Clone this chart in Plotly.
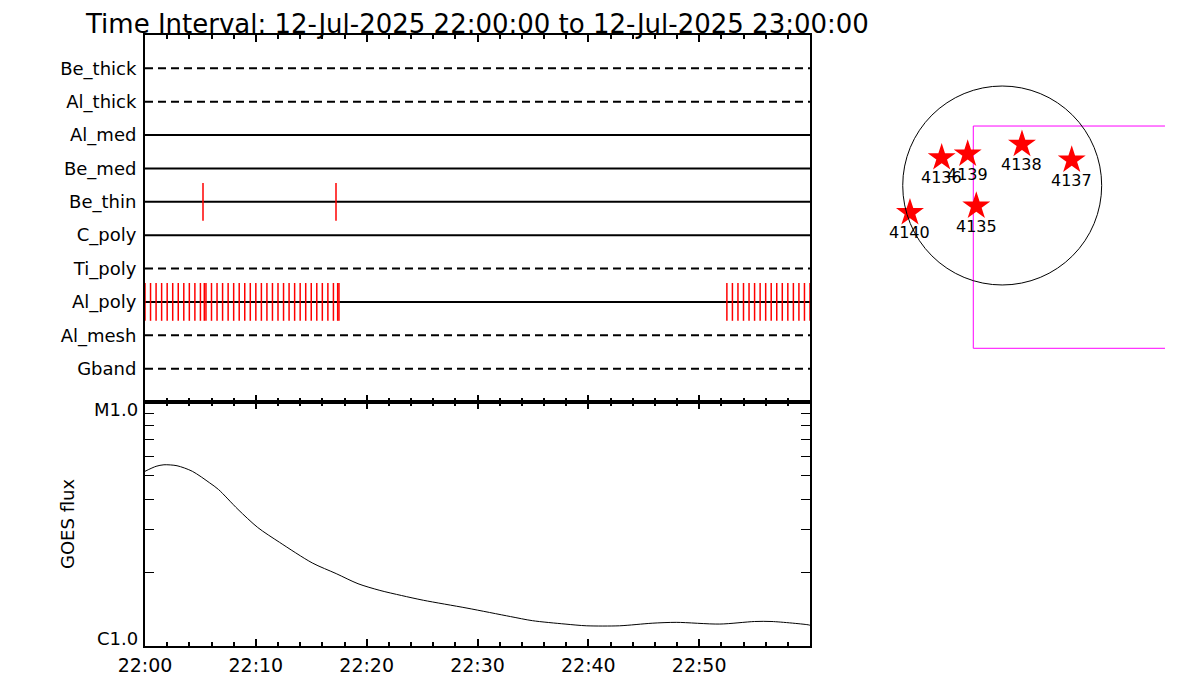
import plotly.graph_objects as go
import pandas as pd

# ---------------- data ----------------
title_text = "Time Interval: 12-Jul-2025 22:00:00 to 12-Jul-2025 23:00:00"
t_start = "2025-07-12 22:00:00"
t_end = "2025-07-12 23:00:00"
time_ticks = ["2025-07-12 22:00:00", "2025-07-12 22:10:00", "2025-07-12 22:20:00",
              "2025-07-12 22:30:00", "2025-07-12 22:40:00", "2025-07-12 22:50:00"]

# attenuator / filter rows, top to bottom
rows = ["Be_thick", "Al_thick", "Al_med", "Be_med", "Be_thin",
        "C_poly", "Ti_poly", "Al_poly", "Al_mesh", "Gband"]
dashed_rows = ["Be_thick", "Al_thick", "Ti_poly", "Al_mesh", "Gband"]

# event marks (seconds after 22:00:00)
be_thin_events = [314, 1034]
al_poly_events = [0, 30, 60, 90, 120, 150, 180, 210, 240, 270, 300, 321, 330,
                  360, 390, 420, 450, 480, 510, 540, 570, 600, 630, 660, 690,
                  720, 750, 780, 810, 840, 870, 900, 930, 960, 990, 1020,
                  1043, 1050,
                  3150, 3180, 3210, 3240, 3270, 3300, 3330, 3360, 3390, 3420,
                  3450, 3480, 3510, 3540, 3570, 3600]

# GOES flux (minutes after 22:00, W/m^2)
goes_min = [0.0, 1.0, 1.71, 2.89, 4.27, 5.84, 6.63, 8.39, 10.17, 12.14, 15.09,
            17.25, 19.22, 21.19, 23.15, 25.11, 29.05, 32.98, 34.95, 37.9,
            39.86, 42.81, 45.76, 47.93, 51.86, 55.0, 56.57, 59.9, 60.0]
goes_flux = [5.2e-6, 5.45e-6, 5.53e-6, 5.48e-6, 5.2e-6, 4.66e-6, 4.38e-6,
             3.63e-6, 3.06e-6, 2.66e-6, 2.19e-6, 1.98e-6, 1.80e-6, 1.69e-6,
             1.61e-6, 1.54e-6, 1.43e-6, 1.32e-6, 1.27e-6, 1.23e-6, 1.21e-6,
             1.21e-6, 1.24e-6, 1.25e-6, 1.23e-6, 1.26e-6, 1.26e-6, 1.22e-6,
             1.215e-6]
flux_tickvals = [1e-6, 1e-5]
flux_ticktext = ["C1.0", "M1.0"]
flux_minor = [2e-6, 3e-6, 4e-6, 5e-6, 6e-6, 7e-6, 8e-6, 9e-6]

# active regions on the solar disk (arcsec)
ar_labels = ["4136", "4139", "4138", "4137", "4140", "4135"]
ar_x = [-584, -333, 191, 671, -890, -250]
ar_y = [268, 304, 398, 246, -262, -198]
sun_radius = 960
fov_x = [1571, -279, -279, 1571]
fov_y = [574, 574, -1571, -1571]

# ---------------- helpers ----------------
t0 = pd.Timestamp(t_start)
def sec_to_time(s):
    return [t0 + pd.Timedelta(seconds=v) for v in s]

goes_t = [t0 + pd.Timedelta(minutes=m) for m in goes_min]
row_y = {name: len(rows) - i for i, name in enumerate(rows)}

FONT = "DejaVu Sans"
W, H = 1200, 700
OFF = 8  # page body margin of the browser
def px_x(p): return (p - OFF) / W
def px_y(p): return 1 - (p - OFF) / H

fig = go.Figure()

# row lines
for name in rows:
    fig.add_trace(go.Scatter(
        x=[t_start, t_end], y=[row_y[name]] * 2, mode="lines",
        line=dict(color="black", width=2,
                  dash="8px,5px" if name in dashed_rows else "solid"),
        xaxis="x", yaxis="y", showlegend=False, hoverinfo="skip"))

# red event marks
for name, ev in [("Be_thin", be_thin_events), ("Al_poly", al_poly_events)]:
    fig.add_trace(go.Scatter(
        x=sec_to_time(ev), y=[row_y[name]] * len(ev), mode="markers",
        marker=dict(symbol="line-ns", size=27, color="red",
                    line=dict(color="red", width=1.5)),
        xaxis="x", yaxis="y", showlegend=False, hoverinfo="skip",
        cliponaxis=False))

# GOES curve
fig.add_trace(go.Scatter(
    x=goes_t, y=goes_flux, mode="lines",
    line=dict(color="black", width=1, shape="spline", smoothing=0.8),
    xaxis="x2", yaxis="y2", showlegend=False, hoverinfo="skip"))

# solar disk panel
fig.add_trace(go.Scatter(
    x=fov_x, y=fov_y, mode="lines", line=dict(color="#ff00ff", width=1),
    xaxis="x3", yaxis="y3", showlegend=False, hoverinfo="skip"))
fig.add_trace(go.Scatter(
    x=ar_x, y=ar_y, mode="markers",
    marker=dict(symbol="star", size=21, color="red", line=dict(width=0)),
    xaxis="x3", yaxis="y3", showlegend=False, hoverinfo="skip"))
fig.add_shape(type="circle", xref="x3", yref="y3",
              x0=-sun_radius, x1=sun_radius, y0=-sun_radius, y1=sun_radius,
              line=dict(color="black", width=1))
for lab, x, y in zip(ar_labels, ar_x, ar_y):
    fig.add_annotation(x=x, y=y, xref="x3", yref="y3", text=lab, showarrow=False,
                       xanchor="center", yanchor="middle",
                       yshift=-20, font=dict(family=FONT, size=16, color="black"))

xdom = [px_x(145), px_x(810)]
time_axis = dict(type="date", range=[t_start, t_end], domain=xdom, automargin=False,
                 showline=True, linewidth=2, linecolor="black", mirror="allticks",
                 ticks="inside", ticklen=7, tickwidth=2, tickcolor="black",
                 tickmode="array", tickvals=time_ticks,
                 showgrid=False, zeroline=False,
                 minor=dict(dtick=120000, tick0=t_start, ticks="inside", ticklen=4,
                            tickwidth=2, tickcolor="black", showgrid=False))

fig.update_layout(
    width=W, height=H, margin=dict(l=0, r=0, t=0, b=0, autoexpand=False),
    paper_bgcolor="white", plot_bgcolor="white",
    font=dict(family=FONT, color="black"),
    xaxis=dict(time_axis, anchor="y", showticklabels=False),
    yaxis=dict(domain=[px_y(402), px_y(35)], range=[0, 11], anchor="x",
               automargin=False,
               tickvals=[row_y[n] for n in rows], ticktext=rows, ticks="",
               showline=True, linewidth=2, linecolor="black", mirror=True,
               showgrid=False, zeroline=False, ticklabelstandoff=3,
               tickfont=dict(family=FONT, size=18)),
    xaxis2=dict(time_axis, anchor="y2", tickformat="%H:%M",
                tickfont=dict(family=FONT, size=19), ticklabelstandoff=1),
    yaxis2=dict(domain=[px_y(646), px_y(402)], type="log", range=[-6, -5],
                anchor="x2", automargin=False,
                tickvals=flux_tickvals, ticktext=["", ""],
                ticks="inside", ticklen=7, tickwidth=2, tickcolor="black",
                showline=True, linewidth=2, linecolor="black", mirror="allticks",
                showgrid=False, zeroline=False,
                minor=dict(tickvals=flux_minor, ticks="inside", ticklen=9,
                           tickwidth=1, tickcolor="black", showgrid=False)),
    xaxis3=dict(domain=[px_x(836.4), px_x(1168)], range=[-1600, 1600], anchor="y3",
                visible=False, showgrid=False, zeroline=False, automargin=False),
    yaxis3=dict(domain=[px_y(351.3), px_y(19.7)], range=[-1600, 1600], anchor="x3",
                visible=False, showgrid=False, zeroline=False, automargin=False),
)

# y labels of the flux panel
fig.add_annotation(x=px_x(140), y=-6, xref="paper", yref="y2", text=flux_ticktext[0],
                   xanchor="right", yanchor="middle", showarrow=False, yshift=8,
                   font=dict(family=FONT, size=18))
fig.add_annotation(x=px_x(140), y=-5, xref="paper", yref="y2", text=flux_ticktext[1],
                   xanchor="right", yanchor="middle", showarrow=False, yshift=-7,
                   font=dict(family=FONT, size=18))
fig.add_annotation(x=px_x(67), y=px_y(524), xref="paper", yref="paper", text="GOES flux",
                   xanchor="center", yanchor="middle",
                   textangle=-90, showarrow=False, font=dict(family=FONT, size=18))
# title
fig.add_annotation(x=px_x(477), y=1, xref="paper", yref="paper", text=title_text,
                   xanchor="center", yanchor="top", borderpad=0,
                   showarrow=False, font=dict(family=FONT, size=26))

fig.write_html("out.html")
